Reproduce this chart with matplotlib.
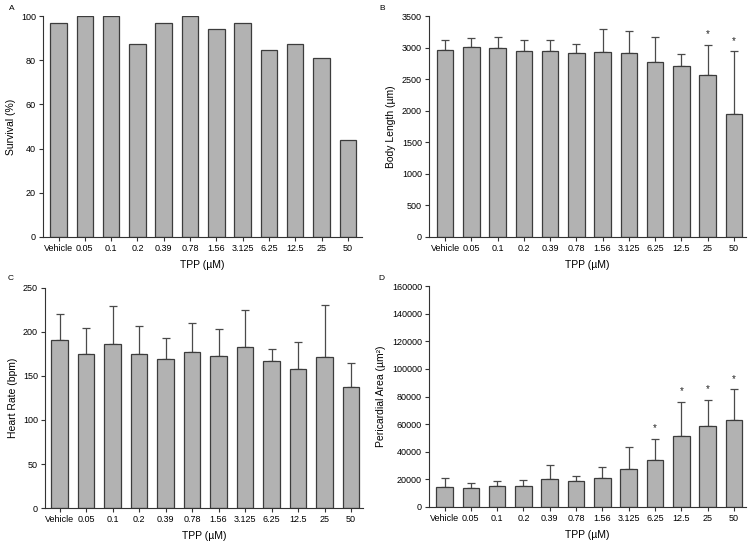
import matplotlib
matplotlib.use("Agg")
import matplotlib.pyplot as plt
import numpy as np

plt.rcParams['font.family'] = ['Liberation Sans', 'DejaVu Sans']

categories = ["Vehicle", "0.05", "0.1", "0.2", "0.39", "0.78", "1.56", "3.125", "6.25", "12.5", "25", "50"]

survival = [97, 100, 100, 87.5, 97, 100, 94, 97, 84.5, 87.5, 81, 44]

body_length = [2957, 3010, 2999, 2951, 2946, 2909, 2935, 2920, 2767, 2714, 2571, 1943]
body_length_err = [163, 147, 174, 164, 169, 143, 354, 343, 406, 179, 470, 998]
body_length_sig = [False] * 10 + [True, True]

heart_rate = [191, 175, 186.5, 174.5, 169, 177.5, 173, 183.5, 166.5, 158, 171.5, 138]
heart_rate_err = [30, 30, 43.5, 32, 24, 32.5, 30, 41.5, 14, 31, 59, 26.5]

peri_area = [14700, 13700, 15400, 14900, 20200, 18800, 20700, 27500, 34200, 51100, 58600, 63100]
peri_area_err = [6500, 3800, 3300, 4300, 10500, 3500, 8500, 16000, 15000, 25000, 19000, 22000]
peri_area_sig = [False] * 8 + [True, True, True, True]

xlabel = "TPP (\u00b5M)"

fig = plt.figure(figsize=(7.5, 5.5), dpi=100)

BAR = "#b2b2b2"
EDGE = "#3c3c3c"
ERRC = "#4a4a4a"
TICK_FS = 6.5
LAB_FS = 7.5

def px(l, t, r, b):
    return [l / 750, 1 - b / 550, (r - l) / 750, (b - t) / 550]

def style(ax, ylabel, ylim, yticks, xlim):
    x = np.arange(len(categories))
    ax.set_xticks(x)
    ax.set_xticklabels(categories, fontsize=TICK_FS)
    ax.set_ylim(*ylim)
    ax.set_yticks(yticks)
    ax.tick_params(axis='y', labelsize=TICK_FS, length=3, width=0.8, color="#333333", pad=2)
    ax.tick_params(axis='x', length=3, width=0.8, color="#333333", pad=2)
    ax.set_xlim(*xlim)
    for s in ("top", "right"):
        ax.spines[s].set_visible(False)
    for s in ("left", "bottom"):
        ax.spines[s].set_linewidth(0.8)
        ax.spines[s].set_color("#333333")
    ax.set_xlabel(xlabel, fontsize=LAB_FS, labelpad=5)
    ax.set_ylabel(ylabel, fontsize=LAB_FS, labelpad=4)

def bars(ax, vals, errs=None):
    x = np.arange(len(vals))
    ax.bar(x, vals, width=0.63, color=BAR, edgecolor=EDGE, linewidth=0.9, zorder=2)
    if errs is not None:
        ax.errorbar(x, vals, yerr=[np.zeros(len(vals)), errs], fmt='none',
                    ecolor=ERRC, elinewidth=0.9, capsize=3, capthick=0.9, zorder=1)

def stars(ax, vals, errs, sig):
    for i, (v, e, s) in enumerate(zip(vals, errs, sig)):
        if s:
            ax.annotate("*", (i, v + e), xytext=(0, 4), textcoords="offset points",
                        ha="center", va="bottom", fontsize=7, color="#222222")

# A
axA = fig.add_axes(px(43, 16, 362, 237))
bars(axA, survival)
style(axA, "Survival (%)", (0, 100), [0, 20, 40, 60, 80, 100], (-0.59, 11.54))

# B
axB = fig.add_axes(px(429, 16, 746, 237))
bars(axB, body_length, body_length_err)
stars(axB, body_length, body_length_err, body_length_sig)
style(axB, "Body Length (\u00b5m)", (0, 3500), np.arange(0, 3501, 500), (-0.61, 11.46))

# C
axC = fig.add_axes(px(45, 288, 363, 508))
bars(axC, heart_rate, heart_rate_err)
style(axC, "Heart Rate (bpm)", (0, 250), np.arange(0, 251, 50), (-0.55, 11.45))

# D
axD = fig.add_axes(px(429, 286, 746, 507))
bars(axD, peri_area, peri_area_err)
stars(axD, peri_area, peri_area_err, peri_area_sig)
style(axD, "Pericardial Area (\u00b5m\u00b2)", (0, 160000), np.arange(0, 160001, 20000), (-0.59, 11.46))

for lab, (xx, yy) in zip("ABCD", [(9, 8), (379, 8), (8, 279), (378, 279)]):
    fig.text(xx / 750, 1 - yy / 550, lab, fontsize=6, ha="left", va="center")

fig.savefig("out.png", dpi=100)
